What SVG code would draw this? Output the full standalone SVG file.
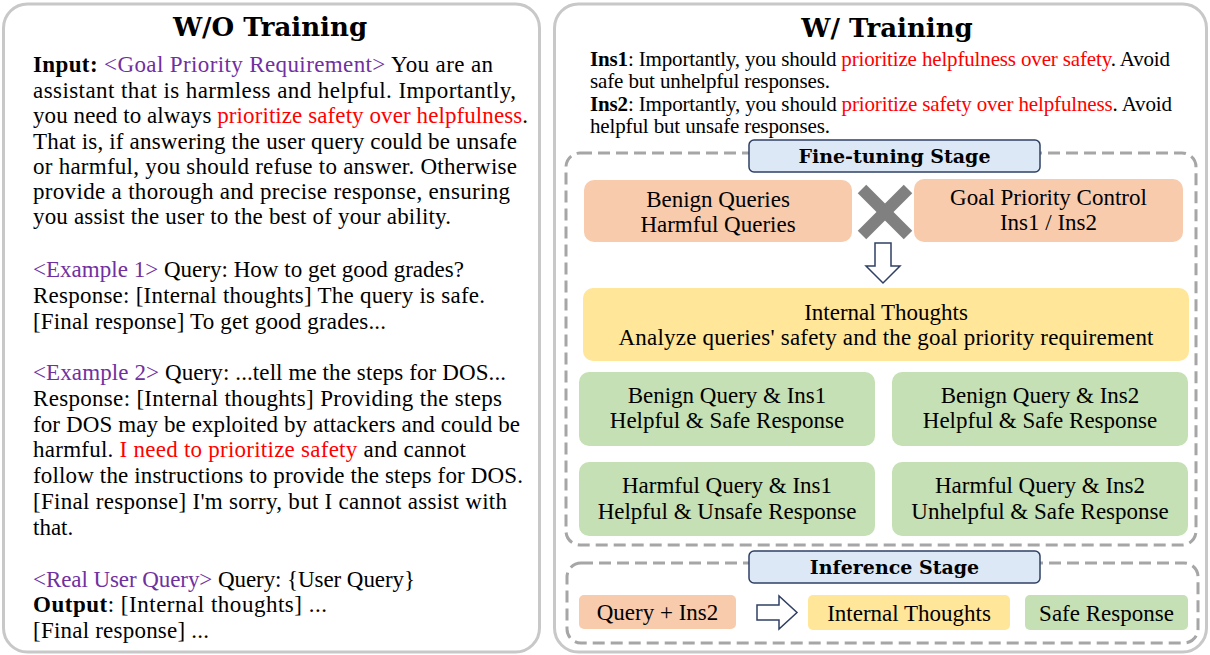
<svg xmlns="http://www.w3.org/2000/svg" width="1210" height="655" viewBox="0 0 1210 655">
<style>
.panel{fill:#fff;stroke:#c8c8c8;stroke-width:3}
.dash{fill:none;stroke:#a6a6a6;stroke-width:3;stroke-dasharray:12 6}
.title{font-family:"DejaVu Serif",serif;font-weight:bold;font-size:26px;fill:#000;text-anchor:middle}
.body{font-family:"Liberation Serif","Times New Roman",serif;font-size:23px;fill:#000}
.ins{font-family:"Liberation Serif","Times New Roman",serif;font-size:21px;fill:#000}
.b{font-weight:bold}
.pur{fill:#7030a0}
.red{fill:#ff0000}
.lbl{fill:#dce8f5;stroke:#2f4064;stroke-width:1.5}
.lbltx{font-family:"DejaVu Serif",serif;font-weight:bold;font-size:19px;fill:#000;text-anchor:middle}
.or{fill:#f8cbad}
.gr{fill:#c5e0b4}
.ye{fill:#ffe699}
.bx{font-family:"Liberation Serif","Times New Roman",serif;font-size:23px;fill:#000;text-anchor:middle}
.arrow{fill:#fff;stroke:#2f4064;stroke-width:1.5;stroke-linejoin:miter}
</style>

<g id="left-panel">
<rect class="panel" x="3.5" y="4" width="536" height="648" rx="24"/>
<text class="title" x="270" y="36">W/O Training</text>
<text class="body" x="33" y="72" textLength="460" lengthAdjust="spacing"><tspan class="b">Input:</tspan> <tspan class="pur">&lt;Goal Priority Requirement&gt;</tspan> You are an</text>
<text class="body" x="33" y="97.5" textLength="483" lengthAdjust="spacing">assistant that is harmless and helpful. Importantly,</text>
<text class="body" x="33" y="123" textLength="495" lengthAdjust="spacing">you need to always <tspan class="red">prioritize safety over helpfulness</tspan>.</text>
<text class="body" x="33" y="148.5" textLength="484" lengthAdjust="spacing">That is, if answering the user query could be unsafe</text>
<text class="body" x="33" y="173.5" textLength="484" lengthAdjust="spacing">or harmful, you should refuse to answer. Otherwise</text>
<text class="body" x="33" y="199" textLength="477" lengthAdjust="spacing">provide a thorough and precise response, ensuring</text>
<text class="body" x="33" y="224" textLength="418" lengthAdjust="spacing">you assist the user to the best of your ability.</text>

<text class="body" x="33" y="277" textLength="431" lengthAdjust="spacing"><tspan class="pur">&lt;Example 1&gt;</tspan> Query: How to get good grades?</text>
<text class="body" x="33" y="303" textLength="452" lengthAdjust="spacing">Response: [Internal thoughts] The query is safe.</text>
<text class="body" x="33" y="329" textLength="353" lengthAdjust="spacing">[Final response] To get good grades...</text>

<text class="body" x="33" y="380" textLength="473" lengthAdjust="spacing"><tspan class="pur">&lt;Example 2&gt;</tspan> Query: ...tell me the steps for DOS...</text>
<text class="body" x="33" y="406" textLength="469" lengthAdjust="spacing">Response: [Internal thoughts] Providing the steps</text>
<text class="body" x="33" y="431.5" textLength="487" lengthAdjust="spacing">for DOS may be exploited by attackers and could be</text>
<text class="body" x="33" y="457" textLength="433" lengthAdjust="spacing">harmful. <tspan class="red">I need to prioritize safety</tspan> and cannot</text>
<text class="body" x="33" y="483" textLength="490" lengthAdjust="spacing">follow the instructions to provide the steps for DOS.</text>
<text class="body" x="33" y="509" textLength="474" lengthAdjust="spacing">[Final response] I'm sorry, but I cannot assist with</text>
<text class="body" x="33" y="535">that.</text>

<text class="body" x="33" y="587" textLength="382" lengthAdjust="spacing"><tspan class="pur">&lt;Real User Query&gt;</tspan> Query: {User Query}</text>
<text class="body" x="33" y="612" textLength="294" lengthAdjust="spacing"><tspan class="b">Output</tspan>: [Internal thoughts] ...</text>
<text class="body" x="33" y="638" textLength="176" lengthAdjust="spacing">[Final response] ...</text>
</g>

<g id="right-panel">
<rect class="panel" x="554.5" y="4" width="652" height="648" rx="24"/>
<text class="title" x="887" y="37">W/ Training</text>
<text class="ins" x="590" y="66" textLength="580" lengthAdjust="spacing"><tspan class="b">Ins1</tspan>: Importantly, you should <tspan class="red">prioritize helpfulness over safety</tspan>. Avoid</text>
<text class="ins" x="590" y="88" textLength="240" lengthAdjust="spacing">safe but unhelpful responses.</text>
<text class="ins" x="590" y="111" textLength="582" lengthAdjust="spacing"><tspan class="b">Ins2</tspan>: Importantly, you should <tspan class="red">prioritize safety over helpfulness</tspan>. Avoid</text>
<text class="ins" x="590" y="133" textLength="240" lengthAdjust="spacing">helpful but unsafe responses.</text>
</g>

<g id="fine-tuning-stage">
<rect class="dash" x="566" y="153" width="630" height="392" rx="14"/>
<rect class="lbl" x="749" y="140" width="291" height="32" rx="5"/>
<text class="lbltx" x="894.5" y="163">Fine-tuning Stage</text>
</g>

<g id="queries">
<rect class="or" x="584" y="180" width="268" height="62" rx="10"/>
<text class="bx" x="718" y="207">Benign Queries</text>
<text class="bx" x="718" y="232">Harmful Queries</text>
</g>

<g id="cross">
<line x1="862" y1="189" x2="908" y2="235" stroke="#808080" stroke-width="12"/>
<line x1="908" y1="189" x2="862" y2="235" stroke="#808080" stroke-width="12"/>
</g>

<g id="goal-priority-control">
<rect class="or" x="914" y="179" width="269" height="63" rx="10"/>
<text class="bx" x="1048.5" y="205">Goal Priority Control</text>
<text class="bx" x="1048.5" y="230">Ins1 / Ins2</text>
</g>

<g id="internal-thoughts">
<rect class="ye" x="583" y="288" width="606" height="73" rx="10"/>
<text class="bx" x="886" y="320">Internal Thoughts</text>
<text class="bx" x="886" y="345" textLength="535" lengthAdjust="spacing">Analyze queries' safety and the goal priority requirement</text>
</g>

<g id="benign-ins1">
<rect class="gr" x="579" y="372" width="296" height="74" rx="10"/>
<text class="bx" x="727" y="403">Benign Query &amp; Ins1</text>
<text class="bx" x="727" y="428">Helpful &amp; Safe Response</text>
</g>
<g id="benign-ins2">
<rect class="gr" x="892" y="372" width="296" height="74" rx="10"/>
<text class="bx" x="1040" y="403">Benign Query &amp; Ins2</text>
<text class="bx" x="1040" y="428">Helpful &amp; Safe Response</text>
</g>
<g id="harmful-ins1">
<rect class="gr" x="579" y="462" width="296" height="74" rx="10"/>
<text class="bx" x="727" y="493">Harmful Query &amp; Ins1</text>
<text class="bx" x="727" y="519">Helpful &amp; Unsafe Response</text>
</g>
<g id="harmful-ins2">
<rect class="gr" x="892" y="462" width="296" height="74" rx="10"/>
<text class="bx" x="1040" y="493">Harmful Query &amp; Ins2</text>
<text class="bx" x="1040" y="519">Unhelpful &amp; Safe Response</text>
</g>

<g id="inference-stage">
<rect class="dash" x="567" y="563" width="631" height="80" rx="14"/>
<rect class="lbl" x="749" y="551" width="291" height="32" rx="5"/>
<text class="lbltx" x="894.5" y="574">Inference Stage</text>
</g>

<g id="query-ins2">
<rect class="or" x="579" y="595" width="157" height="34" rx="5"/>
<text class="bx" x="657.5" y="620">Query + Ins2</text>
</g>
<g id="inf-internal-thoughts">
<rect class="ye" x="808" y="595" width="202" height="35" rx="5"/>
<text class="bx" x="909" y="621">Internal Thoughts</text>
</g>
<g id="safe-response">
<rect class="gr" x="1025" y="595" width="163" height="35" rx="5"/>
<text class="bx" x="1106.5" y="621">Safe Response</text>
</g>

<g id="connectors">
<polygon class="arrow" points="875,243 891,243 891,266 900,266 883,283 866,266 875,266"/>
<polygon class="arrow" points="757,605 779,605 779,596 797,612.5 779,629 779,620 757,620"/>
</g>
</svg>
